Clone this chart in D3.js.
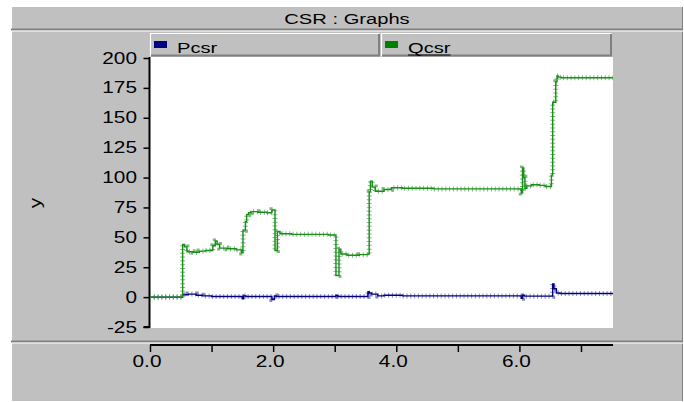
<!DOCTYPE html>
<html>
<head>
<meta charset="utf-8">
<script src="https://cdn.jsdelivr.net/npm/d3@7"></script>
<style>
  html, body { margin: 0; padding: 0; background: #ffffff; }
  svg { display: block; }
  text { font-family: "Liberation Sans", Arial, Helvetica, sans-serif; fill: #000; }
</style>
</head>
<body>
<svg id="chart" width="684" height="402"></svg>
<script>
// ---- data -------------------------------------------------------------
const seriesNames = ["Pcsr", "Qcsr"];
const seriesColors = ["#000080", "#008000"];

// Qcsr: reactive power, stepped set-point changes (time in s)
const qTime = [0, 0.53, 0.56, 0.60, 0.70, 0.80, 0.90, 1.02, 1.06, 1.09, 1.13, 1.25, 1.40, 1.49, 1.51, 1.55, 1.57,
               1.60, 1.64, 1.75, 1.90, 1.98, 2.03, 2.07, 2.11, 2.30, 2.60, 2.90, 3.02, 3.07, 3.10, 3.20, 3.40, 3.54,
               3.56, 3.58, 3.61, 3.66, 3.80, 3.92, 4.10, 4.60, 5.20, 5.80, 6.03, 6.05, 6.07, 6.09, 6.12, 6.20, 6.32,
               6.42, 6.52, 6.54, 6.59, 6.61, 6.63, 6.68, 7.00, 7.52];
const qValue = [0, 44, 42, 38, 37.5, 38.5, 39, 43, 47, 44, 41, 40.5, 39.5, 37, 56, 63, 69,
                70.5, 71.5, 71, 70.5, 73, 39, 55, 53, 52.5, 52.5, 52, 18, 40, 36, 35, 35.5, 36,
                88, 97, 92, 88.5, 90, 91.5, 91, 90.5, 90.5, 90.5, 87, 108, 100, 91, 93, 94, 93.5,
                92.5, 102, 163, 180, 185, 184, 183.5, 183.5, 183.5];

// Pcsr: active power, stays close to zero
const pTime = [0, 0.53, 0.55, 0.62, 0.75, 0.85, 1.00, 1.50, 1.52, 1.56, 1.98, 2.02, 2.05, 2.50, 3.02, 3.05,
               3.54, 3.56, 3.60, 3.70, 3.80, 4.10, 6.03, 6.05, 6.08, 6.54, 6.56, 6.60, 6.66, 7.52];
const pValue = [0, 2.5, 2, 2.5, 1.5, 1, 0.5, -1.5, 1, 0.5, -2, 1, 0.5, 0.5, 1.5, 0.5,
                4.5, 3.5, 2.5, 1, 1.5, 1, -1, 1.5, 0.8, 11, 7, 3.5, 3, 3];

const yTicks = [-25, 0, 25, 50, 75, 100, 125, 150, 175, 200];
const xTicks = [0, 1, 2, 3, 4, 5, 6, 7];
const xTickLabels = ["0.0", "", "2.0", "", "4.0", "", "6.0", ""];
const titleText = "CSR : Graphs";
const yLabel = "y";

// ---- layout -----------------------------------------------------------
const svg = d3.select("#chart");
const GRAY = "#c0c0c0", DARK = "#808080";
const SX = 1.3;           // horizontal stretch of the lettering

const plot = { left: 150, right: 613, top: 57, bottom: 328 };

const x = d3.scaleLinear().domain([0, 7.52]).range([plot.left, plot.right]);
const y = d3.scaleLinear().domain([-25, 200]).range([327, 58]);

function label(g, str, px, py, anchor, size) {
  return g.append("text")
    .attr("transform", `translate(${px},${py}) scale(${SX},1)`)
    .attr("text-anchor", anchor || "start")
    .style("font-size", size + "px")
    .text(str);
}

// background panels
svg.append("rect").attr("x", 12).attr("y", 7).attr("width", 671).attr("height", 394).attr("fill", GRAY);
svg.append("line").attr("x1", 682.5).attr("x2", 682.5).attr("y1", 7).attr("y2", 401).attr("stroke", DARK).attr("stroke-width", 1);

// title bar
label(svg, titleText, 347, 24, "middle", 15.5);
svg.append("rect").attr("x", 11).attr("y", 28.5).attr("width", 672).attr("height", 2).attr("fill", DARK);
svg.append("rect").attr("x", 12).attr("y", 30.5).attr("width", 671).attr("height", 1).attr("fill", "#ffffff");

// legend buttons
const legendBoxes = [[150, 380], [381, 612]];
legendBoxes.forEach(([x0, x1], i) => {
  const g = svg.append("g");
  g.append("rect").attr("x", x0).attr("y", 33).attr("width", x1 - x0).attr("height", 24).attr("fill", GRAY);
  g.append("path").attr("d", `M${x0 + 0.5},56.5V33.5H${x1 - 0.5}`).attr("fill", "none").attr("stroke", "#ffffff").attr("stroke-width", 1.2);
  g.append("path").attr("d", `M${x0 + 1},55.5H${x1 - 1}V34`).attr("fill", "none").attr("stroke", DARK).attr("stroke-width", 2);
  g.append("rect").attr("x", x0 + 4).attr("y", 41).attr("width", 13).attr("height", 7).attr("fill", seriesColors[i]);
  const t = label(g, seriesNames[i], x0 + 27, 53, "start", 15.5);
  if (i === 1) {
    const w = t.node().getComputedTextLength() * SX;
    g.append("line").attr("x1", x0 + 27).attr("x2", x0 + 27 + w).attr("y1", 55).attr("y2", 55)
      .attr("stroke", "#000").attr("stroke-width", 1);
  }
});

// plot area
svg.append("rect").attr("x", plot.left).attr("y", plot.top)
  .attr("width", plot.right - plot.left).attr("height", plot.bottom - plot.top).attr("fill", "#ffffff");

// y axis
const yAxis = svg.append("g").attr("transform", `translate(${plot.left - 0.5},0)`)
  .call(d3.axisLeft(y).tickValues(yTicks).tickSize(6).tickPadding(4).tickFormat(d3.format("d")));
yAxis.select(".domain").attr("d", `M-6,${y(-25)}H0V${plot.top}`).attr("stroke", "#000").attr("stroke-width", 2);
yAxis.selectAll(".tick line").attr("stroke", "#000").attr("stroke-width", 1.5);
yAxis.selectAll(".tick text").remove();
yTicks.forEach(v => label(svg, String(v), 137, y(v) + 5.5, "end", 16));

label(svg, yLabel, 0, 0, "middle", 16)
  .attr("transform", `translate(41,203) rotate(-90) scale(${SX},1)`);

// series lines: solid trace plus a short-dash comb for the sampled ripple
const line = d3.line().x(d => x(d[0])).y(d => y(d[1])).curve(d3.curveStepAfter);
const pData = d3.zip(pTime, pValue);
const qData = d3.zip(qTime, qValue);

const lines = svg.append("g");
lines.append("path").datum(pData).attr("d", line).attr("fill", "none")
  .attr("stroke", "#5a5aa8").attr("stroke-width", 5).attr("stroke-dasharray", "1 2.8").attr("stroke-opacity", 0.7);
lines.append("path").datum(pData).attr("d", line).attr("fill", "none")
  .attr("stroke", seriesColors[0]).attr("stroke-width", 1.4);
lines.append("path").datum(qData).attr("d", line).attr("fill", "none")
  .attr("stroke", "#3fa33f").attr("stroke-width", 5).attr("stroke-dasharray", "1 2.8").attr("stroke-opacity", 0.7);
lines.append("path").datum(qData).attr("d", line).attr("fill", "none")
  .attr("stroke", "#1a8c1a").attr("stroke-width", 1.4);

// x axis panel
svg.append("rect").attr("x", 11).attr("y", 340.5).attr("width", 672).attr("height", 2).attr("fill", DARK);
svg.append("rect").attr("x", 12).attr("y", 342.5).attr("width", 671).attr("height", 1).attr("fill", "#ffffff");

const xAxis = svg.append("g").attr("transform", "translate(0,345)")
  .call(d3.axisBottom(x).tickValues(xTicks).tickSize(7).tickFormat(""));
xAxis.select(".domain").attr("d", `M${plot.left},0H${plot.right}`).attr("stroke", "#000").attr("stroke-width", 2);
xAxis.selectAll(".tick line").attr("stroke", "#000").attr("stroke-width", 1.5);
xTicks.forEach((v, i) => {
  if (xTickLabels[i]) label(svg, xTickLabels[i], x(v) - 3, 367, "middle", 16);
});
</script>
</body>
</html>
